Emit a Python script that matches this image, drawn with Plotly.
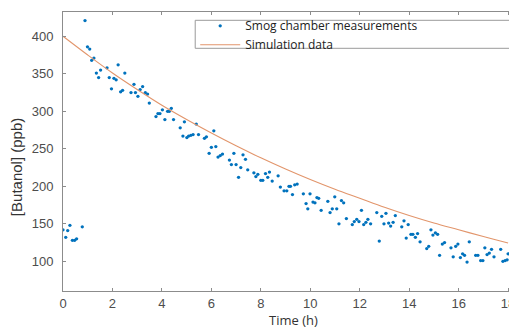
import plotly.graph_objects as go

# Smog chamber measurements (time in h, butanol in ppb)
t_meas = [0.00, 0.11, 0.19, 0.28, 0.38, 0.47, 0.55, 0.78,
          0.89, 0.99, 1.08, 1.16, 1.25, 1.35, 1.44, 1.52, 1.78, 1.87, 1.96, 2.06, 2.15, 2.23, 2.33, 2.41, 2.50,
          2.75, 2.87, 2.93, 3.03, 3.12, 3.22, 3.33, 3.42, 3.49, 3.76, 3.84, 3.92, 4.02, 4.12, 4.23, 4.30, 4.38,
          4.47, 4.74, 4.85, 4.91, 5.01, 5.08, 5.17, 5.26, 5.39, 5.48, 5.72, 5.80, 5.91, 6.00, 6.10, 6.18, 6.27,
          6.36, 6.45, 6.73, 6.81, 6.91, 7.00, 7.10, 7.19, 7.28, 7.38, 7.47, 7.72, 7.80, 7.88, 8.00, 8.08, 8.19,
          8.28, 8.35, 8.46, 8.70, 8.79, 8.94, 9.05, 9.14, 9.20, 9.28, 9.37, 9.47, 9.72, 9.83, 9.90, 9.99, 10.11,
          10.19, 10.27, 10.34, 10.44, 10.71, 10.80, 10.89, 10.99, 11.07, 11.16, 11.26, 11.35, 11.46, 11.70,
          11.78, 11.88, 11.97, 12.07, 12.16, 12.25, 12.33, 12.44, 12.69, 12.79, 12.89, 12.98, 13.06, 13.17,
          13.25, 13.35, 13.44, 13.70, 13.79, 13.88, 13.96, 14.07, 14.15, 14.25, 14.34, 14.44, 14.71, 14.79,
          14.88, 14.96, 15.06, 15.15, 15.23, 15.34, 15.43, 15.69, 15.78, 15.88, 15.97, 16.07, 16.16, 16.24,
          16.34, 16.43, 16.69, 16.78, 16.89, 16.98, 17.06, 17.15, 17.24, 17.33, 17.43, 17.70, 17.79, 17.88,
          17.96, 18.00]
c_meas = [142, 132, 141, 148, 128, 128, 130, 146,
          421, 386, 383, 368, 371, 351, 345, 355, 358, 345, 330, 344, 342, 362, 326, 328, 351,
          325, 336, 325, 320, 329, 333, 325, 323, 311, 293, 297, 297, 302, 289, 300, 300, 304,
          289, 278, 267, 286, 265, 267, 268, 269, 283, 269, 264, 266, 244, 252, 274, 253, 239,
          241, 243, 235, 229, 244, 229, 212, 225, 242, 236, 222, 218, 213, 216, 208, 208, 217,
          212, 219, 207, 214, 199, 194, 194, 200, 200, 189, 202, 203, 190, 177, 170, 190, 179,
          178, 185, 184, 168, 180, 165, 170, 186, 170, 150, 181, 178, 157, 149,
          153, 156, 153, 168, 149, 152, 156, 150, 165, 127, 160, 150, 164, 151,
          147, 152, 161, 146, 154, 131, 149, 136, 136, 132, 137, 126, 117, 120,
          142, 135, 138, 136, 108, 123, 125, 118, 106, 120, 123, 105, 110, 108,
          99, 126, 108, 108, 101, 101, 118, 109, 111, 116, 106, 116, 100, 101,
          102, 110]

# Simulation data
t_sim = list(range(0, 19))
c_sim = [400, 375, 351, 329, 308, 289, 271, 254, 238, 223, 209, 196, 184, 172, 161, 151, 142, 133, 124.5]

x_ticks = [0, 2, 4, 6, 8, 10, 12, 14, 16, 18]
y_ticks = [100, 150, 200, 250, 300, 350, 400]

fig = go.Figure()
fig.add_trace(go.Scatter(x=t_meas, y=c_meas, mode="markers", name="Smog chamber measurements",
                         marker=dict(color="#0072BD", size=3.3, line=dict(width=0))))
fig.add_trace(go.Scatter(x=t_sim, y=c_sim, mode="lines", name="Simulation data",
                         line=dict(color="#E2956B", width=1.1, shape="spline")))

OFF = 8  # page body margin
W, H = 517 - OFF, 331 - OFF
L, T = 54.7, 3.7
R = 0
B = H - (290.7 - OFF)
pw, ph = W - L - R, H - T - B

def px(xs):
    return (xs - OFF - L) / pw

def py(ys):
    return 1 - (ys - OFF - T) / ph

axis_font = dict(family="Liberation Sans, Arial, sans-serif", size=13, color="#4d4d4d")

fig.update_layout(
    width=W, height=H,
    margin=dict(l=L, r=R, t=T, b=B, autoexpand=False),
    paper_bgcolor="white", plot_bgcolor="white",
    showlegend=True,
    legend=dict(x=px(195), y=py(11), xanchor="left", yanchor="top",
                bgcolor="rgba(0,0,0,0)", borderwidth=0,
                font=dict(family="Open Sans, sans-serif", size=12, color="#222222"),
                itemwidth=40, tracegroupgap=0),
    xaxis=dict(range=[0, 18.36], tickvals=x_ticks, ticktext=[str(v) for v in x_ticks],
               showline=True, linecolor="#8c8c8c", linewidth=1, mirror="ticks",
               ticks="inside", ticklen=3, tickcolor="#8c8c8c",
               showgrid=False, zeroline=False, tickfont=axis_font),
    yaxis=dict(range=[60.4, 432.4], tickvals=y_ticks, ticktext=[str(v) for v in y_ticks],
               showline=True, linecolor="#8c8c8c", linewidth=1,
               ticks="inside", ticklen=3, tickcolor="#8c8c8c",
               showgrid=False, zeroline=False, tickfont=axis_font, ticklabelstandoff=6),
    shapes=[dict(type="rect", xref="paper", yref="paper",
                 x0=px(195), x1=px(515), y0=py(48), y1=py(20),
                 line=dict(color="#9a9a9a", width=1), fillcolor="rgba(0,0,0,0)")],
    annotations=[
        dict(text="Time (h)", xref="paper", yref="paper", x=px(293.7), y=py(330.5),
             xanchor="center", yanchor="bottom", showarrow=False,
             font=dict(family="Open Sans, sans-serif", size=13, color="#333333")),
        dict(text="[Butanol] (ppb)", xref="paper", yref="paper", x=px(15.5), y=py(167),
             xanchor="center", yanchor="middle", showarrow=False, textangle=-90,
             font=dict(family="Liberation Sans Narrow, Liberation Sans, sans-serif", size=15, color="#333333")),
    ],
)

fig.write_html("out.html")
